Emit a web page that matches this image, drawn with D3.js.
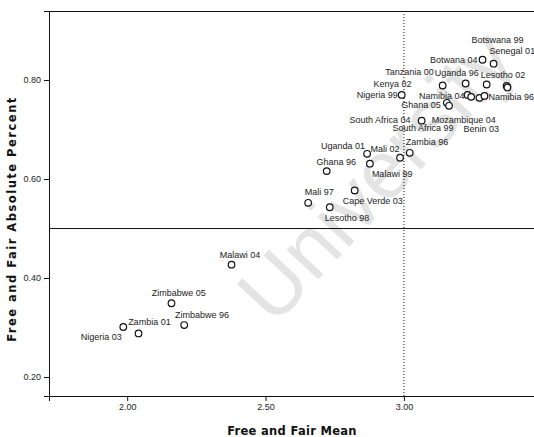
<!DOCTYPE html>
<html>
<head>
<meta charset="utf-8">
<script src="https://cdn.jsdelivr.net/npm/d3@7"></script>
<style>
  body { margin: 0; background: #fff; }
  svg { display: block; }
</style>
</head>
<body>
<svg id="chart"></svg>
<script>
// Country-year labels for each point
const countries = [
  'Botwana 04', 'Senegal 01', 'Tanzania 00', 'Uganda 96', 'Lesotho 02',
  'Namibia 96', 'Botswana 99', 'Nigeria 99', 'Namibia 04', 'Mozambique 04',
  'South Africa 99', 'Benin 03', 'Ghana 05', 'Kenya 02', 'South Africa 04',
  'Zambia 96', 'Mali 02', 'Uganda 01', 'Malawi 99', 'Ghana 96',
  'Cape Verde 03', 'Mali 97', 'Lesotho 98', 'Malawi 04', 'Zimbabwe 05',
  'Zimbabwe 96', 'Nigeria 03', 'Zambia 01'
];

// Free and Fair Mean (x)
const meanValues = [
  3.284, 3.324, 3.140, 3.223, 3.299,
  3.371, 3.374, 2.992, 3.230, 3.243,
  3.273, 3.291, 3.155, 3.163, 3.064,
  3.021, 2.986, 2.867, 2.877, 2.721,
  2.822, 2.654, 2.732, 2.377, 2.160,
  2.206, 1.986, 2.041
];

// Free and Fair Absolute Percent (y)
const percentValues = [
  0.841, 0.833, 0.789, 0.793, 0.791,
  0.788, 0.785, 0.770, 0.770, 0.766,
  0.764, 0.768, 0.754, 0.748, 0.718,
  0.653, 0.643, 0.651, 0.631, 0.616,
  0.577, 0.552, 0.543, 0.427, 0.349,
  0.305, 0.301, 0.288
];

const xTicks = [2.00, 2.50, 3.00];
const yTicks = [0.20, 0.40, 0.60, 0.80];

// label placement relative to each point: [anchor, dx, dy]
const labelPlacement = [
  ['end', -5, 0], ['start', -4, -13], ['end', -9, -13.5], ['start', -31, -10.5], ['start', -6, -9],
  ['start', -18, 11.5], ['start', -36, -47.5], ['end', -4, 0], ['end', -3, 1], ['start', -39.5, 23],
  ['start', -87, 30.5], ['start', -21, 33.5], ['end', -6, 2], ['start', -75.5, -21.7], ['end', -11, -0.5],
  ['start', -4, -10.5], ['end', -0.5, -9], ['end', -2, -8], ['start', 2, 10.5], ['start', -10.3, -9.5],
  ['start', -12, 11], ['start', -3.5, -10.3], ['start', -5, 10.6], ['start', -11.7, -9.7], ['start', -19.7, -10.3],
  ['start', -9.3, -10], ['end', -1.6, 10.3], ['start', -10.4, -11]
];

const width = 534;
const height = 437;
const plotLeft = 49, plotTop = 11, plotBottom = 396, plotRight = 534;

const svg = d3.select('#chart')
    .attr('width', width)
    .attr('height', height);

const x = d3.scaleLinear().domain([1.7175, 3.47]).range([plotLeft, plotRight]);
const y = d3.scaleLinear().domain([0.1616, 0.9395]).range([plotBottom, plotTop]);

const data = countries.map((c, i) => ({
  name: c, mean: meanValues[i], pct: percentValues[i], place: labelPlacement[i]
}));

// watermark
svg.append('text')
    .attr('transform', 'translate(376,176) rotate(-47)')
    .attr('text-anchor', 'middle')
    .attr('dominant-baseline', 'central')
    .style('font-family', 'Liberation Sans, Arial, sans-serif')
    .style('font-size', '82px')
    .style('fill', '#e4e4e4')
    .text('University');

// reference lines
svg.append('line')
    .attr('x1', plotLeft).attr('x2', plotRight)
    .attr('y1', y(0.50)).attr('y2', y(0.50))
    .attr('stroke', '#111').attr('stroke-width', 1);

svg.append('line')
    .attr('x1', x(3.00)).attr('x2', x(3.00))
    .attr('y1', plotTop).attr('y2', plotBottom)
    .attr('stroke', '#111').attr('stroke-width', 1)
    .attr('stroke-dasharray', '1,2');

// top frame
svg.append('line')
    .attr('x1', plotLeft).attr('x2', plotRight)
    .attr('y1', plotTop + 0.5).attr('y2', plotTop + 0.5)
    .attr('stroke', '#111').attr('stroke-width', 1);

// axes
const xAxis = svg.append('g')
    .attr('transform', 'translate(0,' + plotBottom + ')')
    .call(d3.axisBottom(x).tickValues(xTicks).tickFormat(d3.format('.2f')).tickSize(5).tickPadding(3));

const yAxis = svg.append('g')
    .attr('transform', 'translate(' + plotLeft + ',0)')
    .call(d3.axisLeft(y).tickValues(yTicks).tickFormat(d3.format('.2f')).tickSize(5).tickPadding(3));

[xAxis, yAxis].forEach(g => {
  g.select('.domain').attr('stroke', '#111');
  g.selectAll('.tick line').attr('stroke', '#111');
  g.selectAll('text')
      .style('font-family', 'Liberation Sans, Arial, sans-serif')
      .style('font-size', '9px')
      .attr('fill', '#222');
});

// points
svg.selectAll('circle.pt')
    .data(data)
    .enter()
    .append('circle')
    .attr('class', 'pt')
    .attr('cx', d => x(d.mean))
    .attr('cy', d => y(d.pct))
    .attr('r', 3.3)
    .attr('fill', 'white')
    .attr('stroke', '#111')
    .attr('stroke-width', 1.2);

// labels
svg.selectAll('text.lbl')
    .data(data)
    .enter()
    .append('text')
    .attr('class', 'lbl')
    .attr('x', d => x(d.mean) + d.place[1])
    .attr('y', d => y(d.pct) + d.place[2])
    .attr('text-anchor', d => d.place[0])
    .attr('dominant-baseline', 'central')
    .style('font-family', 'Liberation Sans, Arial, sans-serif')
    .style('font-size', '9px')
    .attr('fill', '#222')
    .text(d => d.name);

// axis titles
svg.append('text')
    .attr('x', 292)
    .attr('y', 431)
    .attr('text-anchor', 'middle')
    .attr('dominant-baseline', 'central')
    .style('font-family', 'DejaVu Sans, Verdana, sans-serif')
    .style('font-weight', 'bold')
    .style('font-size', '11.5px')
    .style('letter-spacing', '0.3px')
    .attr('fill', '#111')
    .text('Free and Fair Mean');

svg.append('text')
    .attr('transform', 'translate(12,219) rotate(-90)')
    .attr('text-anchor', 'middle')
    .attr('dominant-baseline', 'central')
    .style('font-family', 'DejaVu Sans, Verdana, sans-serif')
    .style('font-weight', 'bold')
    .style('font-size', '11.5px')
    .style('letter-spacing', '1.5px')
    .attr('fill', '#111')
    .text('Free and Fair Absolute Percent');
</script>
</body>
</html>
